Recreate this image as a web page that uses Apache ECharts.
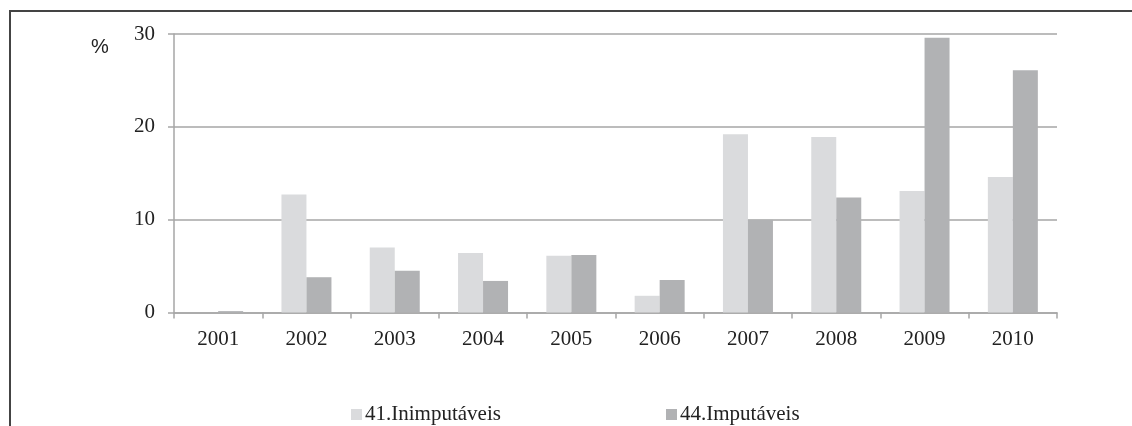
<!DOCTYPE html>
<html>
<head>
<meta charset="utf-8">
<script src="https://cdn.jsdelivr.net/npm/echarts@6/dist/echarts.min.js"></script>
<style>
  html, body { margin: 0; padding: 0; background: #fff; }
  #chart { width: 1132px; height: 426px; }
</style>
</head>
<body>
<div id="chart"></div>
<script>
  // data
  const years = ['2001', '2002', '2003', '2004', '2005', '2006', '2007', '2008', '2009', '2010'];
  const inimputaveis = [0, 12.7, 7.0, 6.4, 6.1, 1.8, 19.2, 18.9, 13.1, 14.6];
  const imputaveis = [0.15, 3.8, 4.5, 3.4, 6.2, 3.5, 10.0, 12.4, 29.6, 26.1];
  const yTicks = [0, 10, 20, 30];
  const seriesNames = ['41.Inimputáveis', '44.Imputáveis'];

  const serif = '"Liberation Serif", "Times New Roman", serif';
  const gridColor = '#a6a6a6';

  let myChart = echarts.init(document.getElementById('chart'));
  let option = {
    animation: false,
    backgroundColor: '#fff',
    graphic: [
      {
        type: 'rect',
        shape: { x: 10, y: 11, width: 1200, height: 500 },
        style: { fill: 'none', stroke: '#444', lineWidth: 2 }
      },
      {
        type: 'text',
        left: 91,
        top: 37,
        style: { text: '%', font: '20px "Liberation Sans", Arial, sans-serif', fill: '#222' }
      }
    ],
    grid: { left: 174, right: 75, top: 34, bottom: 113.5 },
    legend: [
      {
        data: [seriesNames[0]],
        left: 346, top: 399,
        itemWidth: 11, itemHeight: 11, itemGap: 3,
        icon: 'rect',
        textStyle: { fontFamily: serif, fontSize: 21, color: '#222', padding: [0, 0, 0, -2] }
      },
      {
        data: [seriesNames[1]],
        left: 661, top: 399,
        itemWidth: 11, itemHeight: 11, itemGap: 3,
        icon: 'rect',
        textStyle: { fontFamily: serif, fontSize: 21, color: '#222', padding: [0, 0, 0, -2] }
      }
    ],
    xAxis: {
      type: 'category',
      data: years,
      axisLine: { lineStyle: { color: gridColor, width: 1.5 } },
      axisTick: { show: true, length: 6, lineStyle: { color: gridColor, width: 1.5 } },
      axisLabel: { fontFamily: serif, fontSize: 21, color: '#222', margin: 16 }
    },
    yAxis: {
      type: 'value',
      min: yTicks[0],
      max: yTicks[yTicks.length - 1],
      interval: 10,
      axisLine: { show: true, lineStyle: { color: gridColor, width: 1.5 } },
      axisTick: { show: true, length: 6, lineStyle: { color: gridColor, width: 1.5 } },
      axisLabel: { fontFamily: serif, fontSize: 21, color: '#222', margin: 19 },
      splitLine: { lineStyle: { color: gridColor, width: 1.5 } }
    },
    series: [
      {
        name: seriesNames[0],
        type: 'bar',
        data: inimputaveis,
        barWidth: 25,
        barGap: '0%',
        itemStyle: { color: '#dadbdd' }
      },
      {
        name: seriesNames[1],
        type: 'bar',
        data: imputaveis,
        barWidth: 25,
        barGap: '0%',
        itemStyle: { color: '#b1b2b4' }
      }
    ]
  };
  myChart.setOption(option);
</script>
</body>
</html>
